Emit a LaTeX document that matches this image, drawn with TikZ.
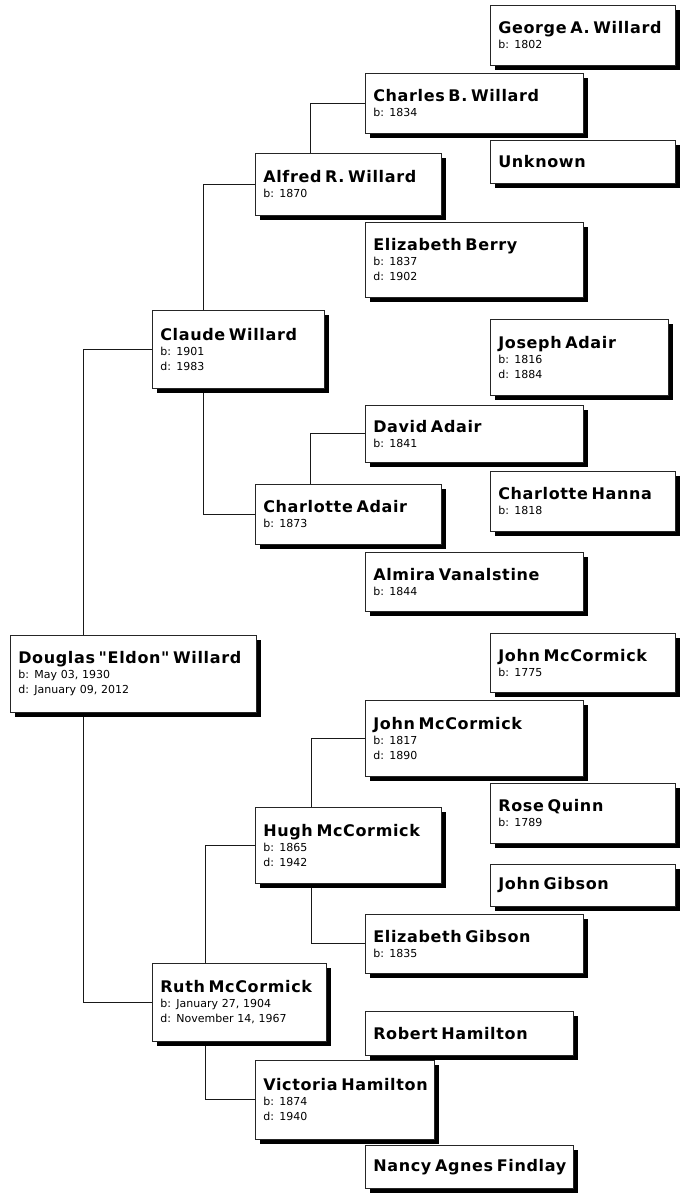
\documentclass[tikz,border=0pt]{standalone}
\usepackage{fontspec}
\setmainfont{DejaVu Sans}
\newfontfamily\namefam[LetterSpace=4]{DejaVu Sans}
\usepackage{tikz}
\usetikzlibrary{shadows}
\usetikzlibrary{backgrounds}

\newcommand{\namefont}{\namefam\fontsize{16}{19}\selectfont\bfseries}
\newcommand{\datefont}{\fontsize{11}{15}\selectfont}
\newcommand{\who}[1]{{\namefont\mbox{#1}\par}}

\tikzset{
  person/.style={draw=black!85, line width=0.6pt, fill=white, anchor=north west,
    inner xsep=8pt, inner ysep=0pt, align=left, font=\datefont,
    drop shadow={shadow xshift=5pt, shadow yshift=-5pt, fill=black, opacity=1}},
  link/.style={draw=black!90, line width=0.8pt}
}

\begin{document}
\begin{tikzpicture}[x=1pt, y=-1pt]

\useasboundingbox (0,0) rectangle (681,1193);

% generation 4
\node [person, text width=169pt, minimum height=60pt] (george)  at (490,   5) {\who{George A. Willard}b: 1802};
\node [person, text width=169pt, minimum height=43pt] (unknown) at (490, 140) {\who{Unknown}};
\node [person, text width=162pt, minimum height=76pt] (joseph)  at (490, 319) {\who{Joseph Adair}b: 1816\\d: 1884};
\node [person, text width=169pt, minimum height=60pt] (channa)  at (490, 471) {\who{Charlotte Hanna}b: 1818};
\node [person, text width=169pt, minimum height=59pt] (jmcc)    at (490, 633) {\who{John McCormick}b: 1775};
\node [person, text width=169pt, minimum height=60pt] (rose)    at (490, 783) {\who{Rose Quinn}b: 1789};
\node [person, text width=169pt, minimum height=42pt] (jgibson) at (490, 864) {\who{John Gibson}};

% generation 3
\node [person, text width=202pt, minimum height=60pt] (charles) at (365,  73) {\who{Charles B. Willard}b: 1834};
\node [person, text width=202pt, minimum height=75pt] (eberry)  at (365, 222) {\who{Elizabeth Berry}b: 1837\\d: 1902};
\node [person, text width=202pt, minimum height=57pt] (david)   at (365, 405) {\who{David Adair}b: 1841};
\node [person, text width=202pt, minimum height=59pt] (almira)  at (365, 552) {\who{Almira Vanalstine}b: 1844};
\node [person, text width=202pt, minimum height=76pt] (jmccb)   at (365, 700) {\who{John McCormick}b: 1817\\d: 1890};
\node [person, text width=202pt, minimum height=59pt] (egibson) at (365, 914) {\who{Elizabeth Gibson}b: 1835};
\node [person, text width=192pt, minimum height=44pt] (robert)  at (365,1011) {\who{Robert Hamilton}};
\node [person, text width=192pt, minimum height=43pt] (nancy)   at (365,1145) {\who{Nancy Agnes Findlay}};

% generation 2
\node [person, text width=170pt, minimum height=62pt] (alfred)   at (255, 153) {\who{Alfred R. Willard}b: 1870};
\node [person, text width=170pt, minimum height=60pt] (cadair)   at (255, 484) {\who{Charlotte Adair}b: 1873};
\node [person, text width=170pt, minimum height=76pt] (hugh)     at (255, 807) {\who{Hugh McCormick}b: 1865\\d: 1942};
\node [person, text width=163pt, minimum height=79pt] (victoria) at (255,1060) {\who{Victoria Hamilton}b: 1874\\d: 1940};

% generation 1
\node [person, text width=156pt, minimum height=78pt] (claude) at (152, 310) {\who{Claude Willard}b: 1901\\d: 1983};
\node [person, text width=158pt, minimum height=78pt] (ruth)   at (152, 963) {\who{Ruth McCormick}b: January 27, 1904\\d: November 14, 1967};

% generation 0
\node [person, text width=230pt, minimum height=77pt] (douglas) at (10, 635) {\who{Douglas \symbol{34}Eldon\symbol{34} Willard}b: May 03, 1930\\d: January 09, 2012};

% lines between parents and children
\begin{scope}[on background layer]
\draw [link] (claude.west) -| ([xshift=73pt]douglas.north west);
\draw [link] ([xshift=73pt]douglas.south west) |- (ruth.west);

\draw [link] (alfred.west) -| ([xshift=51pt]claude.north west);
\draw [link] ([xshift=51pt]claude.south west) |- (cadair.west);

\draw [link] (hugh.west) -| ([xshift=53pt]ruth.north west);
\draw [link] ([xshift=53pt]ruth.south west) |- (victoria.west);

\draw [link] (charles.west) -| ([xshift=55pt]alfred.north west);
\draw [link] (david.west) -| ([xshift=55pt]cadair.north west);

\draw [link] (jmccb.west) -| ([xshift=56pt]hugh.north west);
\draw [link] ([xshift=56pt]hugh.south west) |- (egibson.west);
\end{scope}

\end{tikzpicture}
\end{document}
